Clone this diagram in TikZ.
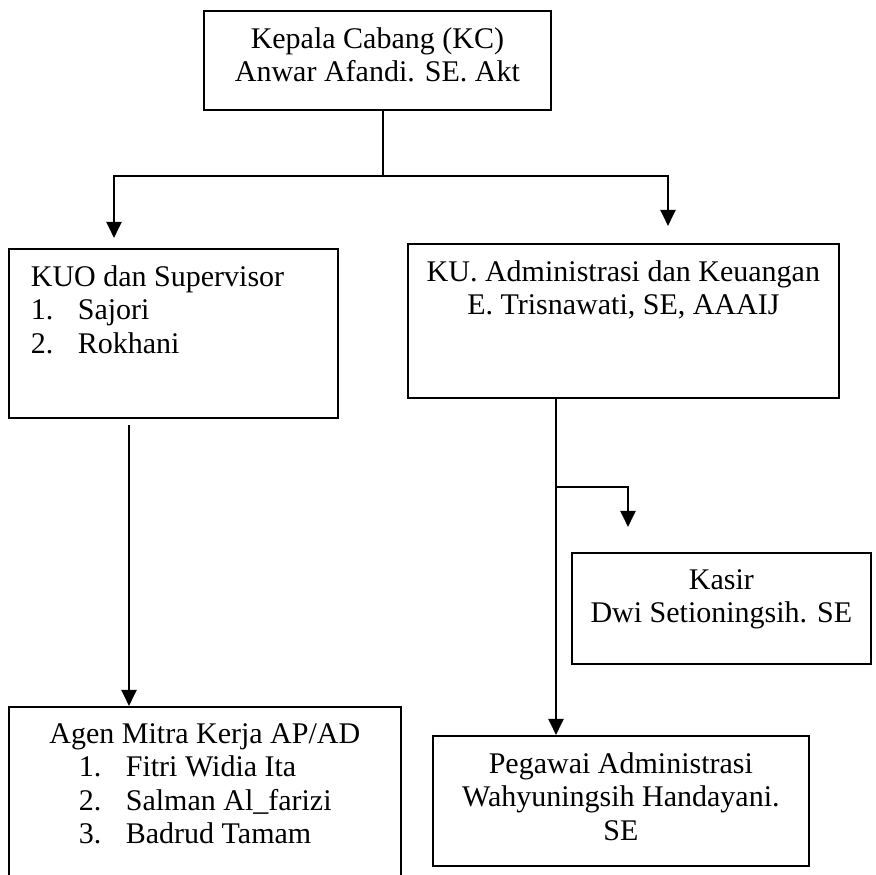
\documentclass[tikz,border=0pt]{standalone}
\usepackage{fontspec}
\setmainfont{Liberation Serif}
\usetikzlibrary{arrows.meta,positioning}

\begin{document}
\begin{tikzpicture}
[x=0.4pt,y=-0.4pt,
  unit/.style={draw,line width=0.7pt,inner xsep=4pt,inner ysep=6.6pt,anchor=north west,
    font=\fontsize{12pt}{13.4pt}\selectfont},
  link/.style={line width=1.1pt},
  arrowline/.style={link,-{Triangle[width=6pt,length=6.5pt]}}]

  \useasboundingbox (0,0) rectangle (875,875);

  % boxes (pixel grid of the page)
  \node[unit] (kc) at (203,10)
    {\parbox[t][26.4pt][t]{130.8pt}{\centering Kepala Cabang (KC)\\Anwar Afandi. SE. Akt}};

  \node[unit,inner xsep=8.8pt] (kuo) at (8,248)
    {\parbox[t][54.4pt][t]{114pt}{\raggedright KUO dan Supervisor\\
      \makebox[18.8pt][l]{1.}Sajori\\
      \makebox[18.8pt][l]{2.}Rokhani}};

  \node[unit] (ku) at (407,243)
    {\parbox[t][48.4pt][t]{164.4pt}{\centering KU. Administrasi dan Keuangan\\E. Trisnawati, SE, AAAIJ}};

  \node[unit] (kasir) at (571,552)
    {\parbox[t][31.2pt][t]{111.6pt}{\centering Kasir\\Dwi Setioningsih. SE}};

  \node[unit,inner xsep=8.8pt] (agen) at (8,706)
    {\parbox[t][66.8pt][t]{139.2pt}{{\centering Agen Mitra Kerja AP/AD\par}\raggedright
      \hspace*{19.2pt}\makebox[18.8pt][l]{1.}Fitri Widia Ita\\
      \hspace*{19.2pt}\makebox[18.8pt][l]{2.}Salman Al\_farizi\\
      \hspace*{19.2pt}\makebox[18.8pt][l]{3.}Badrud Tamam}};

  \node[unit] (peg) at (432,735)
    {\parbox[t][38.8pt][t]{142.4pt}{\centering Pegawai Administrasi\\Wahyuningsih Handayani.\\SE}};

  % connectors
  \coordinate (split) at (383,176);
  \coordinate (kuotip) at (114,238);
  \coordinate (kutip) at (668,226);
  \coordinate (kuofoot) at (129,425);
  \coordinate (kuleg) at (556,487);
  \coordinate (kasirtip) at (628,527);

  \draw[link] (split |- kc.south) -- (split);
  \draw[arrowline] (split) -| (kuotip);
  \draw[arrowline] (split) -| (kutip);
  \draw[arrowline] (kuofoot) -- (kuofoot |- agen.north);
  \draw[arrowline] (kuleg |- ku.south) -- (kuleg |- peg.north);
  \draw[arrowline] (kuleg) -| (kasirtip);

\end{tikzpicture}
\end{document}
